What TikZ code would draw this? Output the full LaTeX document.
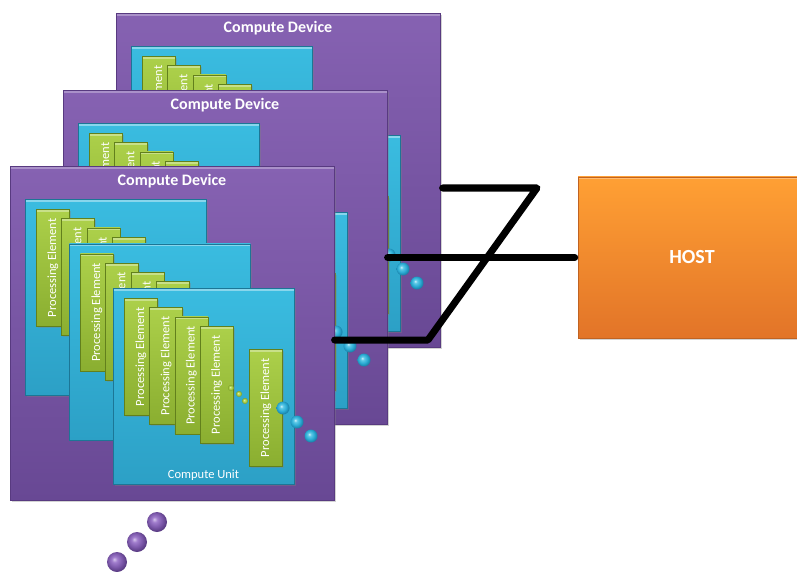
\documentclass[tikz,border=0pt]{standalone}
\usepackage{fontspec}
\setmainfont{Carlito}
\usetikzlibrary{shadows}

\definecolor{devTop}{RGB}{134,98,178}
\definecolor{devBot}{RGB}{104,72,148}
\definecolor{devEdge}{RGB}{88,58,128}
\definecolor{cuTop}{RGB}{58,188,224}
\definecolor{cuBot}{RGB}{44,160,198}
\definecolor{cuEdge}{RGB}{28,118,150}
\definecolor{peTop}{RGB}{172,208,74}
\definecolor{peBot}{RGB}{138,174,48}
\definecolor{peEdge}{RGB}{98,128,28}
\definecolor{hostTop}{RGB}{255,160,52}
\definecolor{hostBot}{RGB}{226,116,40}

% glossy spheres that keep their own hue instead of fading to black
\pgfdeclareradialshading{cyanball}{\pgfqpoint{-7bp}{7bp}}{%
  color(0bp)=(rgb,255:red,205;green,242;blue,252);
  color(7bp)=(rgb,255:red,92;green,200;blue,230);
  color(17bp)=(rgb,255:red,44;green,172;blue,212);
  color(27bp)=(rgb,255:red,24;green,126;blue,166);
  color(50bp)=(rgb,255:red,16;green,96;blue,130)}
\pgfdeclareradialshading{purpleball}{\pgfqpoint{-7bp}{7bp}}{%
  color(0bp)=(rgb,255:red,214;green,196;blue,236);
  color(7bp)=(rgb,255:red,160;green,124;blue,204);
  color(17bp)=(rgb,255:red,126;green,90;blue,172);
  color(27bp)=(rgb,255:red,88;green,58;blue,130);
  color(50bp)=(rgb,255:red,66;green,42;blue,100)}
\pgfdeclareradialshading{greenball}{\pgfqpoint{-7bp}{7bp}}{%
  color(0bp)=(rgb,255:red,236;green,248;blue,196);
  color(7bp)=(rgb,255:red,190;green,222;blue,100);
  color(17bp)=(rgb,255:red,160;green,196;blue,62);
  color(27bp)=(rgb,255:red,110;green,140;blue,34);
  color(50bp)=(rgb,255:red,80;green,104;blue,24)}

\tikzset{
  bevel/.style={path picture={\fill[white,opacity=#1]
      (path picture bounding box.north west) rectangle
      ([yshift=-2.5pt]path picture bounding box.north east);}},
  softshadow/.style={drop shadow={shadow xshift=1.5pt, shadow yshift=-1.5pt, opacity=0.35}},
  devbox/.style={rectangle, anchor=north west, inner sep=0pt,
      minimum width=324pt, minimum height=334pt,
      top color=devTop, bottom color=devBot, draw=devEdge, line width=0.6pt,
      bevel=0.3, softshadow},
  cubox/.style={rectangle, anchor=north west, inner sep=0pt,
      minimum width=181pt, minimum height=196pt,
      top color=cuTop, bottom color=cuBot, draw=cuEdge, line width=0.6pt,
      bevel=0.4, softshadow},
  pebox/.style={rectangle, anchor=north west, inner sep=0pt,
      minimum width=33pt, minimum height=117pt,
      top color=peTop, bottom color=peBot, draw=peEdge, line width=0.6pt,
      bevel=0.35, softshadow},
  hostbox/.style={rectangle, inner sep=0pt,
      minimum width=228pt, minimum height=161pt,
      top color=hostTop, bottom color=hostBot, draw=hostBot!85!black, line width=0.6pt,
      bevel=0.3, softshadow, text=white, font=\bfseries\fontsize{20}{20}\selectfont},
  devtitle/.style={text=white, inner sep=0pt, font=\bfseries\fontsize{16}{16}\selectfont},
  petext/.style={rotate=90, text=white, inner sep=0pt, font=\fontsize{12.5}{12.5}\selectfont},
  cutext/.style={text=white, inner sep=0pt, font=\fontsize{12.5}{12.5}\selectfont},
  ball/.style={circle, inner sep=0pt, minimum size=#1},
  bus/.style={line width=7pt, line cap=round, line join=round, black},
  pics/computedevice/.style={code={
    \node[devbox] (-dev) at (0,0) {};
    \node[devtitle] (-title) at (162,15) {Compute Device};
    \foreach \k in {0,1,2} {
      \begin{scope}[shift={({15+44*\k},{33+44.5*\k})}]
        \node[cubox] (-cu\k) at (0,0) {};
        \foreach \j in {0,...,3} {
          \node[pebox] (-cu\k-pe\j) at ({11+25.3*\j},{10+9.3*\j}) {};
          \node[petext] (-cu\k-pt\j) at (-cu\k-pe\j.center) {Processing Element};
        }
        \node[ball=6pt, shading=greenball] (-cu\k-g1) at (118,100) {};
        \node[ball=6pt, shading=greenball] (-cu\k-g2) at (126,106) {};
        \node[ball=6pt, shading=greenball] (-cu\k-g3) at (132,113) {};
        \node[pebox] (-cu\k-pe4) at (136,61) {};
        \node[petext] (-cu\k-pt4) at (-cu\k-pe4.center) {Processing Element};
        \node[ball=13pt, shading=cyanball] (-cu\k-c1) at (170,120) {};
        \node[ball=13pt, shading=cyanball] (-cu\k-c2) at (184,134) {};
        \node[ball=13pt, shading=cyanball] (-cu\k-c3) at (198,148) {};
        \ifnum\k=2
          \node[cutext] (-cu\k-label) at (90.5,187) {Compute Unit};
        \fi
      \end{scope}
    }
  }}
}

\begin{document}
\begin{tikzpicture}[x=1pt, y=-1pt]
  \useasboundingbox (0,0) rectangle (797,572);

  % three stacked compute devices, back to front
  \pic (devA) at (116,13) {computedevice};
  \pic (devB) at (63,90) {computedevice};
  \pic (devC) at (10,166) {computedevice};

  % more devices
  \node[ball=20pt, shading=purpleball] (more1) at (157,522) {};
  \node[ball=20pt, shading=purpleball] (more2) at (137,542) {};
  \node[ball=20pt, shading=purpleball] (more3) at (117,562) {};

  % host
  \node[hostbox] (host) at (692,257.5) {HOST};

  % interconnect
  \coordinate (jTop) at (537,188);
  \coordinate (jBot) at (428,340);
  \draw[bus] ([xshift=2pt]devA-dev.east |- jTop) -- (jTop) -- (jBot) -- (devC-dev.east |- jBot);
  \draw[bus] (devB-dev.east |- host.west) -- ([xshift=-3pt]host.west);
\end{tikzpicture}
\end{document}
